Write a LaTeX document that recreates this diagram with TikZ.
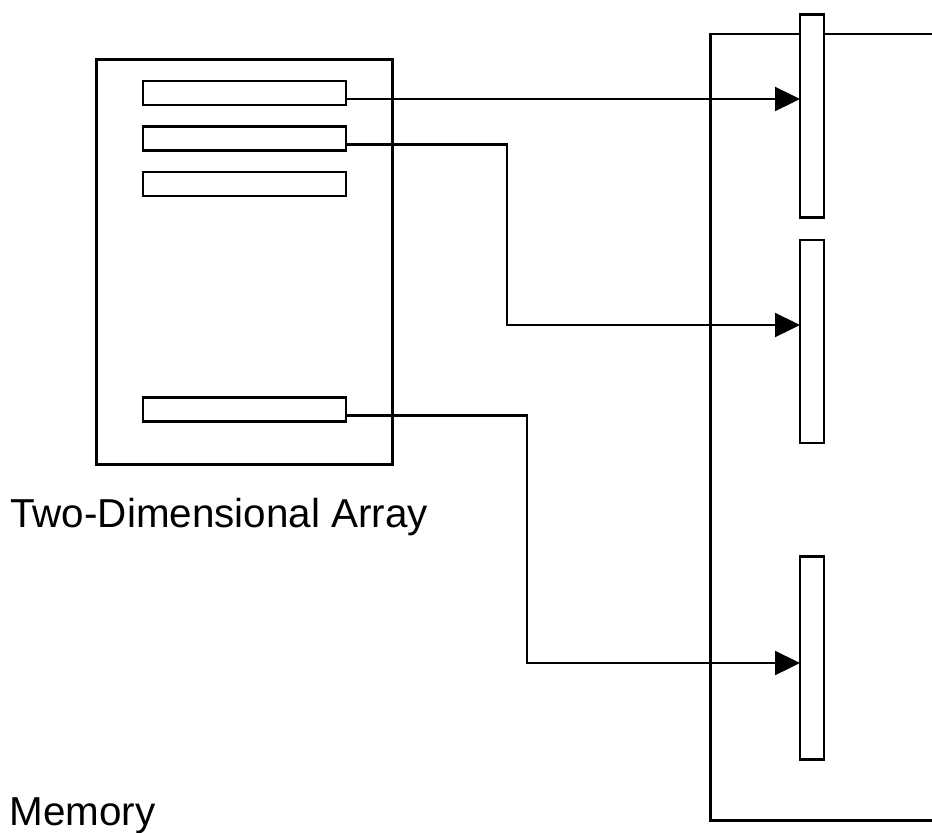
\documentclass[tikz,border=0pt]{standalone}
\usepackage{fontspec}
\setmainfont{Liberation Sans}
\usetikzlibrary{arrows.meta,positioning}
\tikzset{
    every picture/.style={line join=miter},
    framebox/.style={draw=black,line width=1.7pt,inner sep=0pt,outer sep=0pt},
    rowcell/.style={draw=black,fill=white,line width=1.5pt,inner sep=0pt,outer sep=0pt,
      minimum width=4.06cm,minimum height=0.48cm},
    memcell/.style={draw=black,fill=white,line width=1.5pt,inner sep=0pt,outer sep=0pt,
      minimum width=0.48cm,minimum height=4.06cm},
    flowarrow/.style={-{Triangle[length=0.5cm,width=0.48cm]},draw=black,line width=1.3pt},
    caption/.style={inner sep=0pt,anchor=base west,font=\fontsize{23}{28}\selectfont}
}
\begin{document}
\begin{tikzpicture}[x=0.02cm,y=-0.02cm]
  \useasboundingbox (0,0) rectangle (932,832);
  % the array and its rows
  \node[framebox,minimum width=5.92cm,minimum height=8.12cm] (array) at (244.5,262) {};
  \foreach \n/\y in {1/93,2/138.5,3/184,4/409.5} {
    \node[rowcell] (row\n) at (244.5,\y) {};
  }
  \node[caption] (arraylabel) at (10,527) {Two-Dimensional Array};
  % memory with its blocks
  \draw[framebox] (940,34) -| (710,820) -- (940,820);
  \node[caption] (memlabel) at (9,825) {Memory};
  \node[memcell] (cell1) at (812,116) {};
  \node[memcell] (cell2) at (812,341.5) {};
  \node[memcell] (cell3) at (812,658) {};
  % links from rows to blocks
  \coordinate (s1) at ([yshift=0.12cm]row1.south east);
  \coordinate (s2) at ([yshift=0.12cm]row2.south east);
  \coordinate (s4) at ([yshift=0.12cm]row4.south east);
  \coordinate (t2) at ([yshift=0.33cm]cell2.west);
  \coordinate (t3) at ([yshift=-0.1cm]cell3.west);
  \draw[flowarrow] (s1) -- (s1 -| cell1.west);
  \draw[flowarrow] (s2) -- ++(161,0) |- (t2);
  \draw[flowarrow] (s4) -- ++(181,0) |- (t3);
\end{tikzpicture}
\end{document}
